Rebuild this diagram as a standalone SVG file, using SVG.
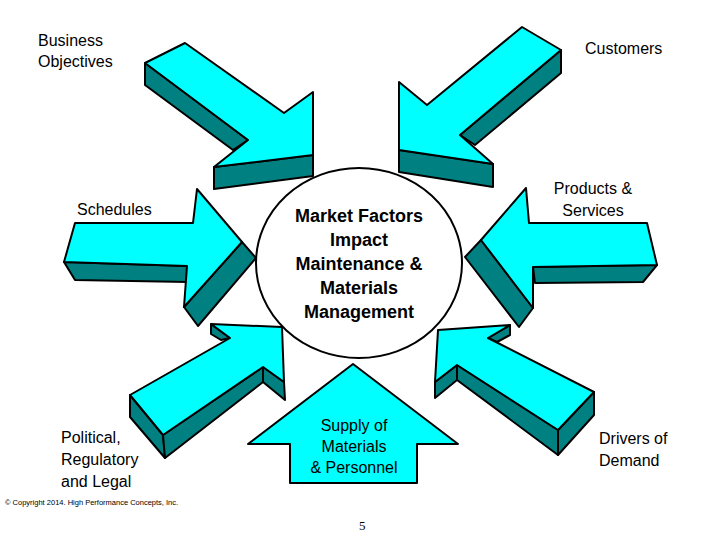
<svg xmlns="http://www.w3.org/2000/svg" width="720" height="540" viewBox="0 0 720 540">
<style>
.t{fill:#00ffff;stroke:#000;stroke-width:2;stroke-linejoin:round}
.s{fill:#008080;stroke:#000;stroke-width:2;stroke-linejoin:round}
.l{font-family:"Liberation Sans",Arial,sans-serif;font-size:16px;fill:#000}
.c{font-family:"Liberation Sans",Arial,sans-serif;font-size:18px;font-weight:bold;fill:#000;text-anchor:middle}
</style>
<rect width="720" height="540" fill="#fff"/>
<g id="connectors">
<g id="arrow-business">
<polygon class="s" points="145,63 145,85 233,150 248,140"/>
<polygon class="s" points="214,167 313,155 313,176 214,189"/>
<polygon class="t" points="145,63 185,43 284,113 313,92 313,155 214,167 248,140"/>
</g>
<g id="arrow-customers">
<polygon class="s" points="561,50 561,73 475,145 460,135"/>
<polygon class="s" points="399,150 493,164 493,187 399,172"/>
<polygon class="t" points="522,27 561,50 460,135 493,164 399,150 399,82 427,105"/>
</g>
<g id="arrow-schedules">
<polygon class="s" points="64,262 75,280 188,282 187,266"/>
<polygon class="s" points="242,242 256,258 198,326 184,307"/>
<polygon class="t" points="75,223 193,223 197,189 242,242 184,307 187,266 64,262"/>
</g>
<g id="arrow-products">
<polygon class="s" points="481,240 465,257 519,327 533,308"/>
<polygon class="s" points="533,267 657,265 643,282 535,283"/>
<polygon class="t" points="526,188 529,223 647,223 657,265 533,267 533,308 481,240"/>
</g>
<g id="arrow-political">
<polygon class="s" points="130,395 163,435 165,458 130,417"/>
<polygon class="s" points="163,435 263,367 263,382 165,458"/>
<polygon class="s" points="263,367 284,382 285,400 263,382"/>
<polygon class="s" points="211,324 211,334 221,340 230,338"/>
<polygon class="t" points="211,324 282,327 284,382 263,367 163,435 130,395 230,338"/>
</g>
<g id="arrow-drivers">
<polygon class="s" points="435,382 435,398 457,380 457,365"/>
<polygon class="s" points="457,365 558,430 558,455 457,380"/>
<polygon class="s" points="558,430 594,392 594,415 558,455"/>
<polygon class="s" points="510,325 510,335 497,342 488,338"/>
<polygon class="t" points="438,330 510,325 488,338 594,392 558,430 457,365 435,382"/>
</g>
</g>
<g id="center">
<ellipse cx="359" cy="263" rx="103" ry="95" fill="#fff" stroke="#000" stroke-width="2"/>
<text class="c" x="359" y="222">Market Factors</text>
<text class="c" x="359" y="246">Impact</text>
<text class="c" x="359" y="270">Maintenance &amp;</text>
<text class="c" x="359" y="294">Materials</text>
<text class="c" x="359" y="318">Management</text>
</g>
<g id="supply">
<polygon class="t" points="353,364 458,444 417,444 417,483 290,483 290,444 248,444"/>
<text class="l" x="354" y="431" text-anchor="middle" fill="#1a2f2f">Supply of</text>
<text class="l" x="354" y="452" text-anchor="middle">Materials</text>
<text class="l" x="354" y="473" text-anchor="middle">&amp; Personnel</text>
</g>
<g id="labels">
<text class="l" x="38" y="46">Business</text>
<text class="l" x="38" y="67">Objectives</text>
<text class="l" x="585" y="54">Customers</text>
<text class="l" x="77" y="215">Schedules</text>
<text class="l" x="593" y="194" text-anchor="middle">Products &amp;</text>
<text class="l" x="593" y="216" text-anchor="middle">Services</text>
<text class="l" x="61" y="443">Political,</text>
<text class="l" x="61" y="465">Regulatory</text>
<text class="l" x="61" y="487">and Legal</text>
<text class="l" x="599" y="444">Drivers of</text>
<text class="l" x="599" y="466">Demand</text>
<text x="5" y="505" font-family="Liberation Sans,Arial,sans-serif" font-size="7.5">© Copyright 2014.  High Performance Concepts, Inc.</text>
<text x="359" y="530" font-family="Liberation Serif,serif" font-size="13">5</text>
</g>
</svg>
